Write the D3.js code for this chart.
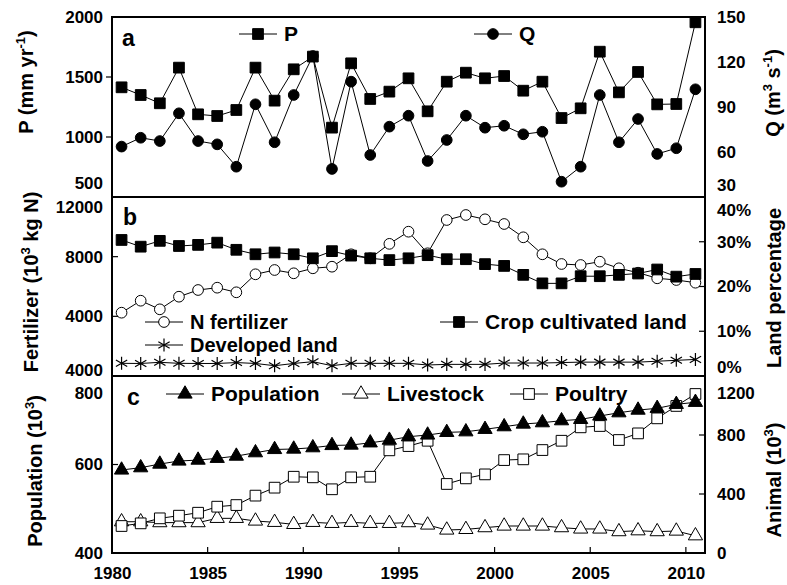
<!DOCTYPE html>
<html>
<head>
<meta charset="utf-8">
<script src="https://cdn.jsdelivr.net/npm/d3@7"></script>
<style>
    body { margin: 0; background: #fff; }
    #chart { width: 787px; height: 585px; }
    svg text { font-family: "Liberation Sans", Arial, sans-serif; font-weight: bold; fill: #000; }
</style>
</head>
<body>
<div id="chart"></div>
<script>

/* DATA */
const years = [1980, 1981, 1982, 1983, 1984, 1985, 1986, 1987, 1988, 1989,
               1990, 1991, 1992, 1993, 1994, 1995, 1996, 1997, 1998, 1999,
               2000, 2001, 2002, 2003, 2004, 2005, 2006, 2007, 2008, 2009, 2010];

const precip = [1414, 1350, 1281, 1578, 1189, 1175, 1225, 1578, 1303, 1564,
                1670, 1078, 1614, 1317, 1378, 1489, 1214, 1461, 1536, 1489,
                1508, 1386, 1461, 1158, 1239, 1711, 1372, 1542, 1272, 1275, 1956];

const discharge = [63.6, 69.5, 67.3, 85.8, 67.3, 65.1, 50.2, 91.8, 66.5, 98,
                   124, 48.7, 106.9, 58, 76.9, 84.2, 54, 68, 84.2, 76.2,
                   77.5, 71.8, 73.5, 40.2, 50.2, 98, 66.5, 82, 58.7, 62.5, 101.8];

const nFertilizer = [4244, 5048, 4470, 5316, 5765, 5920, 5611, 6818, 7106, 6885,
                     7220, 7327, 8159, 7890, 8860, 9674, 8226, 10458, 10793, 10505,
                     10190, 9298, 8159, 7508, 7441, 7663, 7220, 6925, 6550, 6436, 6255];

const cropLand = [30.4, 28.9, 30.2, 29.05, 29.3, 29.8, 28.2, 27.2, 27.6, 27.2,
                  26.3, 27.9, 26.9, 26.3, 25.9, 26.3, 27.0, 26.1, 26.1, 25.0,
                  24.6, 22.6, 20.7, 20.7, 22.3, 22.3, 22.6, 22.9, 23.8, 22.2, 22.8];

const developedLand = [2.83, 2.8, 3.06, 2.83, 2.8, 2.8, 3.0, 2.8, 2.3, 2.8,
                       3.2, 2.3, 2.83, 2.83, 2.83, 2.83, 2.46, 2.6, 2.6, 2.6,
                       2.9, 2.9, 2.9, 3.0, 3.1, 3.1, 3.1, 3.1, 3.3, 3.5, 3.7];

const population = [587.6, 592.8, 601, 607.9, 610, 614, 619, 626.7, 634, 635,
                    638, 643, 644, 649, 655, 662.8, 666.7, 672.6, 674, 679.5,
                    685.5, 691.5, 694.5, 699, 702, 709.6, 717, 723, 727, 736, 740.6];

const livestock = [212, 212, 206, 206, 206, 235, 235, 217, 208, 194,
                   208, 201, 208, 201, 201, 206, 190, 156, 160, 172,
                   183, 183, 183, 172, 163, 163, 145, 151, 145, 149, 117];

const poultry = [183, 201, 235, 253, 273, 314, 325, 389, 443, 517,
                 513, 432, 513, 517, 696, 725, 761, 468, 506, 533,
                 630, 635, 698, 761, 852, 861, 766, 811, 913, 997, 1078];

/* TICKS */
const xTicks = [1980, 1985, 1990, 1995, 2000, 2005, 2010];
const pTicks = [500, 1000, 1500, 2000];
const pLabels = ["500", "1000", "1500", "2000"];
const qTicks = [30, 60, 90, 120, 150];
const qLabels = ["30", "60", "90", "120", "150"];
const fertTicks = [0, 4000, 8000, 12000];
const fertLabels = ["4000", "4000", "8000", "12000"];
const landTicks = [0, 10, 20, 30, 40];
const landLabels = ["0%", "10%", "20%", "30%", "40%"];
const popTicks = [400, 600, 800];
const popLabels = ["400", "600", "800"];
const animalTicks = [0, 400, 800, 1200];
const animalLabels = ["0", "400", "800", "1200"];

/* SVG CANVAS */
const width = 787;
const height = 585;
const plot = {left: 112, right: 705};
const panels = [
    {name: "a", top: 17, bottom: 197},
    {name: "b", top: 197, bottom: 376},
    {name: "c", top: 376, bottom: 553}
];

const svg = d3.select("#chart")
    .append("svg")
    .attr("width", width)
    .attr("height", height);

/* SCALES */
const xScale = d3.scaleLinear()
    .domain([1980, 2011])
    .range([plot.left, plot.right]);

// points sit in the middle of each year
const xPos = function(i) { return xScale(years[i] + 0.5); };

const yP = d3.scaleLinear().domain([500, 2000]).range([panels[0].bottom, panels[0].top]);
const yQ = d3.scaleLinear().domain([30, 150]).range([panels[0].bottom, panels[0].top]);
const yFert = d3.scaleLinear().domain([0, 12000]).range([panels[1].bottom, panels[1].top]);
const yLand = d3.scaleLinear().domain([0, 40]).range([panels[1].bottom, panels[1].top]);
const yPop = d3.scaleLinear().domain([400, 800]).range([panels[2].bottom, panels[2].top]);
const yAnimal = d3.scaleLinear().domain([0, 1200]).range([panels[2].bottom, panels[2].top]);

/* MARKER HELPERS */
const markers = {
    square:   {type: d3.symbolSquare, size: 115},
    circle:   {type: d3.symbolCircle, size: 90},
    triangle: {type: d3.symbolTriangle, size: 88},
    asterisk: {type: d3.symbolAsterisk, size: 120}
};

function markerStyle(sel, kind, filled) {
    sel.attr("d", d3.symbol().type(markers[kind].type).size(markers[kind].size))
        .attr("fill", kind === "asterisk" ? "none" : (filled ? "#000" : "#fff"))
        .attr("stroke", "#000")
        .attr("stroke-width", kind === "asterisk" ? 1.2 : 1);
}

function drawSeries(values, yScale, kind, filled) {
    const line = d3.line()
        .x(function(d, i) { return xPos(i); })
        .y(function(d) { return yScale(d); });

    svg.append("path")
        .datum(values)
        .attr("d", line)
        .attr("fill", "none")
        .attr("stroke", "#000")
        .attr("stroke-width", 1);

    svg.append("g")
        .selectAll("path")
        .data(values)
        .enter()
        .append("path")
            .attr("transform", function(d, i) { return `translate(${xPos(i)},${yScale(d)})`; })
            .call(markerStyle, kind, filled);
}

function legendItem(x, y, kind, filled, label, fontSize) {
    svg.append("line")
        .attr("x1", x - 19)
        .attr("x2", x + 19)
        .attr("y1", y)
        .attr("y2", y)
        .attr("stroke", "#000")
        .attr("stroke-width", 1);

    svg.append("path")
        .attr("transform", `translate(${x},${y})`)
        .call(markerStyle, kind, filled);

    svg.append("text")
        .attr("x", x + 26)
        .attr("y", y + 7)
        .attr("font-size", fontSize || 21)
        .text(label);
}

/* AXES */
function drawYAxis(scale, side, ticks, labels, nudge, tickDir) {
    const left = side === "left";
    const x = left ? plot.left : plot.right;
    const axis = (left ? d3.axisLeft(scale) : d3.axisRight(scale))
        .tickValues(ticks)
        .tickFormat(function(d, i) { return labels[i]; })
        .tickSize(0)
        .tickPadding(left ? 9 : 12);

    const g = svg.append("g")
        .attr("transform", `translate(${x},0)`)
        .call(axis)
        .attr("font-size", 17);
    g.select(".domain").remove();
    g.selectAll("text")
        .attr("transform", function(d) { return `translate(0,${nudge[d] || 0})`; });

    // small tick marks for the inner values only
    const inner = ticks.filter(function(d) { return d !== scale.domain()[0] && d !== scale.domain()[1]; });
    const len = (left ? 1 : -1) * tickDir * 6;
    svg.append("g")
        .selectAll("line")
        .data(inner)
        .enter()
        .append("line")
            .attr("x1", x)
            .attr("x2", x + len)
            .attr("y1", function(d) { return scale(d); })
            .attr("y2", function(d) { return scale(d); })
            .attr("stroke", "#000")
            .attr("stroke-width", 1.2);
}

function axisTitle(x, y, parts) {
    const t = svg.append("text")
        .attr("transform", `translate(${x},${y}) rotate(-90)`)
        .attr("text-anchor", "middle")
        .attr("font-size", 20);
    let raised = false;
    parts.forEach(function(p) {
        const isSup = p[1];
        const span = t.append("tspan").text(p[0]);
        if (isSup && !raised) { span.attr("dy", -8).attr("font-size", 13); raised = true; }
        else if (isSup) { span.attr("font-size", 13); }
        else if (raised) { span.attr("dy", 8); raised = false; }
    });
}

/* SERIES */
// panel a
drawSeries(discharge, yQ, "circle", true);
drawSeries(precip, yP, "square", true);
// panel b
drawSeries(developedLand, yLand, "asterisk", false);
drawSeries(nFertilizer, yFert, "circle", false);
drawSeries(cropLand, yLand, "square", true);
// panel c
drawSeries(livestock, yAnimal, "triangle", false);
drawSeries(poultry, yAnimal, "square", false);
drawSeries(population, yPop, "triangle", true);

/* PANEL FRAMES + LETTERS */
svg.selectAll("rect.frame")
    .data(panels)
    .enter()
    .append("rect")
        .attr("class", "frame")
        .attr("x", plot.left)
        .attr("y", function(d) { return d.top; })
        .attr("width", plot.right - plot.left)
        .attr("height", function(d) { return d.bottom - d.top; })
        .attr("fill", "none")
        .attr("stroke", "#000")
        .attr("stroke-width", 2);

svg.append("text").attr("x", 122).attr("y", 46).attr("font-size", 23).text("a");
svg.append("text").attr("x", 123).attr("y", 225).attr("font-size", 23).text("b");
svg.append("text").attr("x", 127).attr("y", 405).attr("font-size", 23).text("c");

drawYAxis(yP, "left", pTicks, pLabels, {500: -14}, -1);
drawYAxis(yQ, "right", qTicks, qLabels, {30: -12}, 0);
drawYAxis(yFert, "left", fertTicks, fertLabels, {0: -6, 12000: 10}, 1);
drawYAxis(yLand, "right", landTicks, landLabels, {0: -9, 40: 13}, 1);
drawYAxis(yPop, "left", popTicks, popLabels, {800: 17}, 1);
drawYAxis(yAnimal, "right", animalTicks, animalLabels, {1200: 17}, 1);

const xAxis = svg.append("g")
    .attr("transform", `translate(0,${panels[2].bottom})`)
    .call(d3.axisBottom(xScale).tickValues(xTicks).tickFormat(d3.format("d")).tickSize(0).tickPadding(14))
    .attr("font-size", 17);
xAxis.select(".domain").remove();

svg.append("g")
    .selectAll("line")
    .data(xTicks.slice(1))
    .enter()
    .append("line")
        .attr("x1", function(d) { return xScale(d); })
        .attr("x2", function(d) { return xScale(d); })
        .attr("y1", panels[2].bottom)
        .attr("y2", panels[2].bottom - 6)
        .attr("stroke", "#000")
        .attr("stroke-width", 1.2);

/* AXIS TITLES */
axisTitle(33, 82, [["P (mm yr", false], ["-1", true], [")", false]]);
axisTitle(780, 93, [["Q (m", false], ["3", true], [" s", false], ["-1", true], [")", false]]);
axisTitle(38, 282, [["Fertilizer (10", false], ["3", true], [" kg N)", false]]);
axisTitle(781, 288, [["Land percentage", false]]);
axisTitle(42, 471, [["Population (10", false], ["3", true], [")", false]]);
axisTitle(781, 480, [["Animal (10", false], ["3", true], [")", false]]);

/* LEGENDS */
legendItem(258, 34, "square", true, "P");
legendItem(493, 34, "circle", true, "Q");
legendItem(164, 322, "circle", false, "N fertilizer", 20);
legendItem(164, 345, "asterisk", false, "Developed land", 20);
legendItem(459, 322, "square", true, "Crop cultivated land");
legendItem(185, 394, "triangle", true, "Population");
legendItem(361, 394, "triangle", false, "Livestock");
legendItem(529, 394, "square", false, "Poultry");

</script>
</body>
</html>
